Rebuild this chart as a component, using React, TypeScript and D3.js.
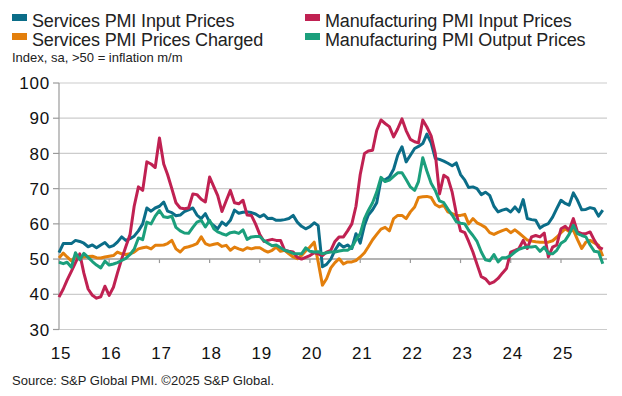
import React from "react";
import * as d3 from "d3";

// monthly, Jan 2015 onwards
const startYear = 2015;
const startMonth = 0;

const servicesInput = [
  51.8, 54.4, 54.4, 54.4, 55.3, 55.0, 54.5, 53.5, 54.0, 53.2, 54.0, 54.7,
  53.4, 53.8, 54.8, 56.3, 55.3, 55.8, 56.5, 58.0, 60.0, 64.5, 63.6, 64.5,
  65.0, 66.2, 63.6, 63.2, 62.3, 62.5, 63.5, 64.0, 64.5, 62.5, 61.5, 62.9,
  60.5, 59.5, 58.6, 60.5, 59.6, 61.0, 63.9, 63.0, 63.3, 63.4, 63.2, 62.8,
  62.0, 62.6, 61.5, 61.6, 61.0, 61.0, 61.2, 61.5, 62.4, 60.5, 59.3, 58.6,
  59.2, 60.3, 59.5, 47.8, 48.5, 50.0, 52.5, 54.4, 53.4, 54.0, 53.0, 57.2,
  54.5, 59.6, 62.5, 64.0, 66.0, 72.5, 72.5, 73.3, 75.5, 79.5, 81.9, 77.6,
  79.5, 81.4, 82.0, 82.8, 85.5, 83.0, 78.6, 78.3, 77.8, 77.2, 76.5, 77.3,
  74.0, 72.4, 70.3, 70.5, 70.0, 68.3, 69.0, 68.1, 65.0, 63.4, 63.9, 64.2,
  63.4, 64.8, 63.4, 66.9, 61.5, 61.2, 61.0, 58.8, 59.6, 60.1, 61.9, 64.3,
  66.7, 65.8, 65.3, 68.8, 66.7, 64.0, 64.1, 64.6, 64.3, 62.2, 63.9,
];

const manufacturingInput = [
  39.2, 41.5, 44.0, 46.5, 49.0, 51.5, 46.0, 41.5, 39.7, 38.9, 39.3, 42.3,
  39.7, 42.0, 46.0, 50.0, 53.5, 57.0, 65.0, 70.5, 69.5, 77.6, 77.0, 76.0,
  84.4, 77.0, 74.0, 70.0, 66.0, 64.5, 64.3, 64.5, 68.5, 68.3, 67.0, 66.2,
  73.3, 70.5, 68.0, 63.5, 66.5, 69.5, 66.0, 65.7, 66.7, 62.5, 62.4, 60.0,
  57.0, 55.0, 55.3, 55.6, 55.3, 55.3, 52.5, 52.2, 52.0, 50.5, 50.0, 50.5,
  51.0, 51.8, 51.5, 51.0, 52.0, 52.5, 55.0, 56.3, 56.3, 58.0, 60.0, 65.0,
  74.0, 80.0, 80.7, 80.9, 86.5, 89.5, 88.5, 87.6, 84.7, 87.0, 89.8, 86.5,
  84.0, 83.3, 83.0, 89.5, 87.5, 85.0, 80.0, 68.5, 73.8, 73.0, 69.0, 63.0,
  58.0, 57.5, 55.0, 52.0, 48.5, 45.0, 44.4, 43.0, 43.5, 44.5, 46.0, 47.3,
  52.0, 52.5, 53.0, 55.3, 53.0, 56.3, 56.7, 56.3, 57.4, 50.6, 53.4, 54.0,
  58.6, 59.3, 58.2, 61.5, 57.7, 57.2, 57.2, 57.7, 55.3, 53.4, 52.8,
];

const servicesCharged = [
  50.3, 51.7, 50.6, 49.5, 50.6, 50.5, 50.6, 50.7, 50.8, 50.4, 50.3, 50.6,
  50.8, 51.0, 52.0, 51.5, 51.3, 51.5, 52.0, 52.9, 53.2, 53.4, 52.9, 53.9,
  53.9, 54.0, 54.4, 55.3, 52.9, 52.0, 53.2, 53.5, 53.9, 54.4, 56.3, 54.4,
  53.9, 54.2, 54.4, 53.6, 53.9, 52.5, 53.4, 52.9, 52.5, 53.2, 52.9, 53.2,
  53.2, 52.5, 52.0, 52.5, 53.4, 52.2, 52.5, 51.5, 50.6, 50.1, 51.0, 52.3,
  53.4, 54.8, 49.2, 42.6, 44.4, 47.5, 49.0, 50.1, 48.6, 49.2, 49.2, 49.6,
  50.6, 51.8, 53.5, 55.5, 57.0, 58.5, 59.0, 58.0, 61.5, 62.4, 62.4, 61.5,
  63.4, 64.8, 67.5, 67.7, 67.8, 67.5, 65.5, 64.8, 65.3, 63.4, 62.9, 62.4,
  62.4, 62.7, 60.0, 61.5, 60.3, 59.7, 59.0, 57.5, 57.0, 57.6, 58.1, 58.5,
  57.5, 58.3, 57.4, 56.4, 55.4, 55.1, 54.9, 54.8, 54.8, 54.8, 55.2, 56.2,
  57.5, 58.6, 57.8, 58.2, 55.5, 53.0, 54.8, 55.3, 54.6, 53.9, 50.8,
];

const manufacturingOutput = [
  49.1, 48.7, 49.1, 47.7, 51.8, 49.8, 51.6, 50.5, 49.3, 48.3, 47.5, 49.4,
  48.3, 48.6, 49.0, 49.6, 50.2, 51.3, 52.8, 56.0, 55.5, 60.5, 60.0, 62.2,
  63.8, 62.0, 61.8, 62.2, 59.0, 58.0, 57.4, 57.3, 59.0, 60.5, 61.0, 59.1,
  61.0, 58.6, 57.7, 57.2, 56.8, 57.5, 57.7, 57.3, 58.3, 55.6, 56.3, 56.4,
  56.4, 55.2, 54.5, 53.8, 54.0, 53.2, 52.5, 52.1, 51.6, 51.5, 51.5, 53.2,
  52.2, 52.0, 52.1, 51.5, 51.8, 52.0, 52.0, 52.3, 52.5, 52.5, 53.3, 55.5,
  57.2, 61.5, 63.8, 66.0, 69.0, 73.2, 72.0, 72.4, 73.5, 74.5, 74.5, 72.6,
  70.5, 69.5, 72.0, 78.8, 75.0, 71.5, 69.5, 66.5, 66.0, 64.2, 62.5, 60.6,
  60.2, 60.0, 58.2, 56.7, 55.0, 52.0, 49.8, 49.5, 51.3, 49.2, 50.4, 50.4,
  51.0, 52.0, 52.8, 53.2, 53.4, 53.4, 53.6, 52.2, 53.4, 51.6, 51.5, 52.5,
  54.5, 55.3, 57.0, 59.6, 57.2, 56.7, 56.3, 54.0, 52.2, 52.0, 48.7,
];

const yTicks = [30, 40, 50, 60, 70, 80, 90, 100];
const yearLabels = ["15", "16", "17", "18", "19", "20", "21", "22", "23", "24", "25"];

const series = [
  { name: "Services PMI Input Prices", color: "#0b6d88", values: servicesInput },
  { name: "Services PMI Prices Charged", color: "#e37f0c", values: servicesCharged },
  { name: "Manufacturing PMI Input Prices", color: "#c02152", values: manufacturingInput },
  { name: "Manufacturing PMI Output Prices", color: "#1b9f7c", values: manufacturingOutput },
];

const legendOrder = [
  { name: "Services PMI Input Prices", color: "#0b6d88", col: 0, row: 0 },
  { name: "Manufacturing PMI Input Prices", color: "#c02152", col: 1, row: 0 },
  { name: "Services PMI Prices Charged", color: "#e37f0c", col: 0, row: 1 },
  { name: "Manufacturing PMI Output Prices", color: "#1b9f7c", col: 1, row: 1 },
];

const W = 622;
const H = 396;
const font = "'Liberation Sans', Arial, sans-serif";

export default function App() {
  const x = d3
    .scaleTime()
    .domain([new Date(2015, 0, 1), new Date(2025, 0, 1)])
    .range([59, 561]);
  const y = d3.scaleLinear().domain([30, 100]).range([329.5, 83]);
  const plotRight = 607;

  const date = (i: number) => new Date(startYear, startMonth + i, 1);
  const line = d3
    .line<number>()
    .x((_, i) => x(date(i)))
    .y((d) => y(d));

  const yearTicks = yearLabels.map((_, k) => new Date(2015 + k, 0, 1));

  return (
    <svg
      width={W}
      height={H}
      style={{ position: "absolute", left: 0, top: 0, background: "#fff" }}
      fontFamily={font}
    >
      {/* legend */}
      {legendOrder.map((d) => {
        const lx = d.col === 0 ? 12 : 305;
        const ly = d.row === 0 ? 14 : 33;
        return (
          <g key={d.name}>
            <rect x={lx} y={ly} width={15} height={7} fill={d.color} />
            <text
              x={lx + 20}
              y={ly + 13}
              fontSize={18}
              letterSpacing={-0.15}
              fill="#222"
            >
              {d.name}
            </text>
          </g>
        );
      })}
      <text x={12} y={62} fontSize={13} fill="#222">
        Index, sa, &gt;50 = inflation m/m
      </text>

      {/* gridlines */}
      {yTicks.map((t) => (
        <g key={t}>
          <line
            x1={59}
            x2={plotRight}
            y1={y(t)}
            y2={y(t)}
            stroke={t === 50 ? "#9a9a9a" : "#cccccc"}
            strokeWidth={t === 50 ? 1.5 : 1.2}
          />
          <line x1={53} x2={59} y1={y(t)} y2={y(t)} stroke="#9a9a9a" strokeWidth={1.2} />
          <text
            x={50}
            y={y(t)}
            dy="0.36em"
            textAnchor="end"
            fontSize={17}
            letterSpacing={0.8}
            fill="#111"
          >
            {t}
          </text>
        </g>
      ))}
      <line x1={59} x2={59} y1={y(100)} y2={y(30)} stroke="#9a9a9a" strokeWidth={1.2} />

      {/* x ticks on the 50 line */}
      {yearTicks.map((d, k) => (
        <g key={k}>
          <line x1={x(d)} x2={x(d)} y1={y(50)} y2={y(50) + 4} stroke="#9a9a9a" strokeWidth={1.2} />
          <text
            x={x(d) + 2}
            y={359}
            textAnchor="middle"
            fontSize={17}
            letterSpacing={0.8}
            fill="#111"
          >
            {yearLabels[k]}
          </text>
        </g>
      ))}

      {/* series */}
      {series.map((s) => (
        <path
          key={s.name}
          d={line(s.values) || ""}
          fill="none"
          stroke={s.color}
          strokeWidth={3}
          strokeLinejoin="round"
        />
      ))}

      <text x={12} y={385} fontSize={13} fill="#222">
        Source: S&amp;P Global PMI. ©2025 S&amp;P Global.
      </text>
    </svg>
  );
}
